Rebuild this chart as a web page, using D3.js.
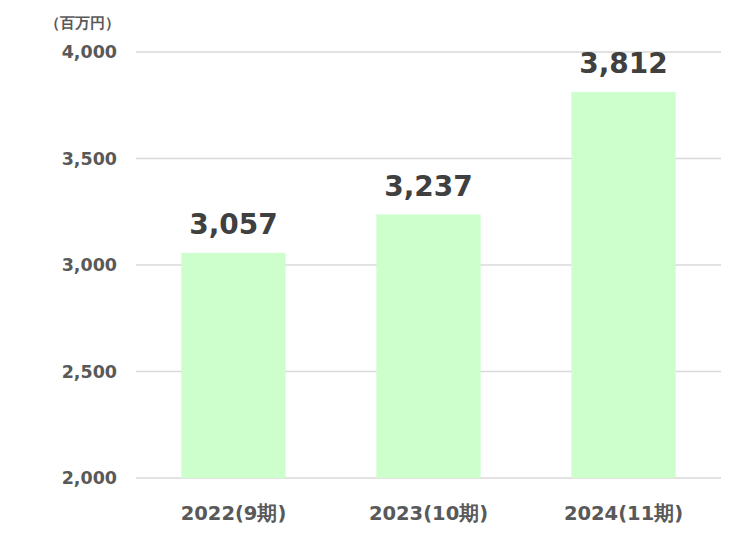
<!DOCTYPE html>
<html>
<head>
<meta charset="utf-8">
<script src="https://cdn.jsdelivr.net/npm/d3@7"></script>
<style>
  body { margin: 0; background: #fff; }
  text { font-family: "DejaVu Sans", Verdana, sans-serif; }
</style>
</head>
<body>
<div id="chart"></div>
<script>
// data
var categories = ["2022(9期)", "2023(10期)", "2024(11期)"];
var sales = [3057, 3237, 3812];
var yTicks = [2000, 2500, 3000, 3500, 4000];
var unitLabel = "（百万円）";

var svgWidth = 745;
var svgHeight = 533;

var margin = { top: 52, right: 24, bottom: 55, left: 136 };
var chartWidth = svgWidth - margin.left - margin.right;
var chartHeight = svgHeight - margin.top - margin.bottom;

var svg = d3.select("#chart")
    .append("svg")
    .attr("width", svgWidth)
    .attr("height", svgHeight);

var chartGroup = svg.append("g")
    .attr("transform", `translate(${margin.left}, ${margin.top})`);

var xScale = d3.scaleBand()
    .domain(categories)
    .range([0, chartWidth])
    .paddingInner(0.465)
    .paddingOuter(0.2325);

var yScale = d3.scaleLinear()
    .domain([2000, 4000])
    .range([chartHeight, 0]);

// gridlines
chartGroup.append("g")
    .selectAll("line")
    .data(yTicks)
    .enter()
    .append("line")
    .attr("x1", 0)
    .attr("x2", chartWidth)
    .attr("y1", d => yScale(d))
    .attr("y2", d => yScale(d))
    .attr("stroke", "#d9d9d9")
    .attr("stroke-width", 1.3);

// y axis labels
var leftAxis = d3.axisLeft(yScale)
    .tickValues(yTicks)
    .tickFormat(d3.format(","))
    .tickSize(0)
    .tickPadding(19);

var yAxisGroup = chartGroup.append("g").call(leftAxis);
yAxisGroup.select(".domain").remove();
yAxisGroup.selectAll("text")
    .attr("font-family", "'DejaVu Sans', Verdana, sans-serif")
    .attr("font-size", "17.5px")
    .attr("font-weight", "bold")
    .attr("fill", "#595959");

// x axis labels
var bottomAxis = d3.axisBottom(xScale).tickSize(0).tickPadding(28);
var xAxisGroup = chartGroup.append("g")
    .attr("transform", `translate(0, ${chartHeight})`)
    .call(bottomAxis);
xAxisGroup.select(".domain").remove();
xAxisGroup.selectAll("text")
    .attr("font-family", "'DejaVu Sans', Verdana, 'Noto Sans CJK JP', sans-serif")
    .attr("font-size", "19.5px")
    .attr("font-weight", "bold")
    .attr("fill", "#595959");

// bars
chartGroup.selectAll("rect")
    .data(sales)
    .enter()
    .append("rect")
    .attr("x", (d, i) => xScale(categories[i]))
    .attr("y", d => yScale(d))
    .attr("width", xScale.bandwidth())
    .attr("height", d => chartHeight - yScale(d))
    .attr("fill", "#ccffcc");

// value labels
chartGroup.append("g")
    .selectAll("text")
    .data(sales)
    .enter()
    .append("text")
    .attr("x", (d, i) => xScale(categories[i]) + xScale.bandwidth() / 2)
    .attr("y", d => yScale(d) - 19)
    .attr("text-anchor", "middle")
    .attr("font-size", "28px")
    .attr("font-weight", "bold")
    .attr("fill", "#404040")
    .text(d => d3.format(",")(d));

// unit label
svg.append("text")
    .attr("x", 120)
    .attr("y", 28)
    .attr("text-anchor", "end")
    .attr("font-family", "'Noto Sans CJK JP', sans-serif")
    .attr("font-size", "15px")
    .attr("font-weight", "bold")
    .attr("fill", "#595959")
    .text(unitLabel);
</script>
</body>
</html>
